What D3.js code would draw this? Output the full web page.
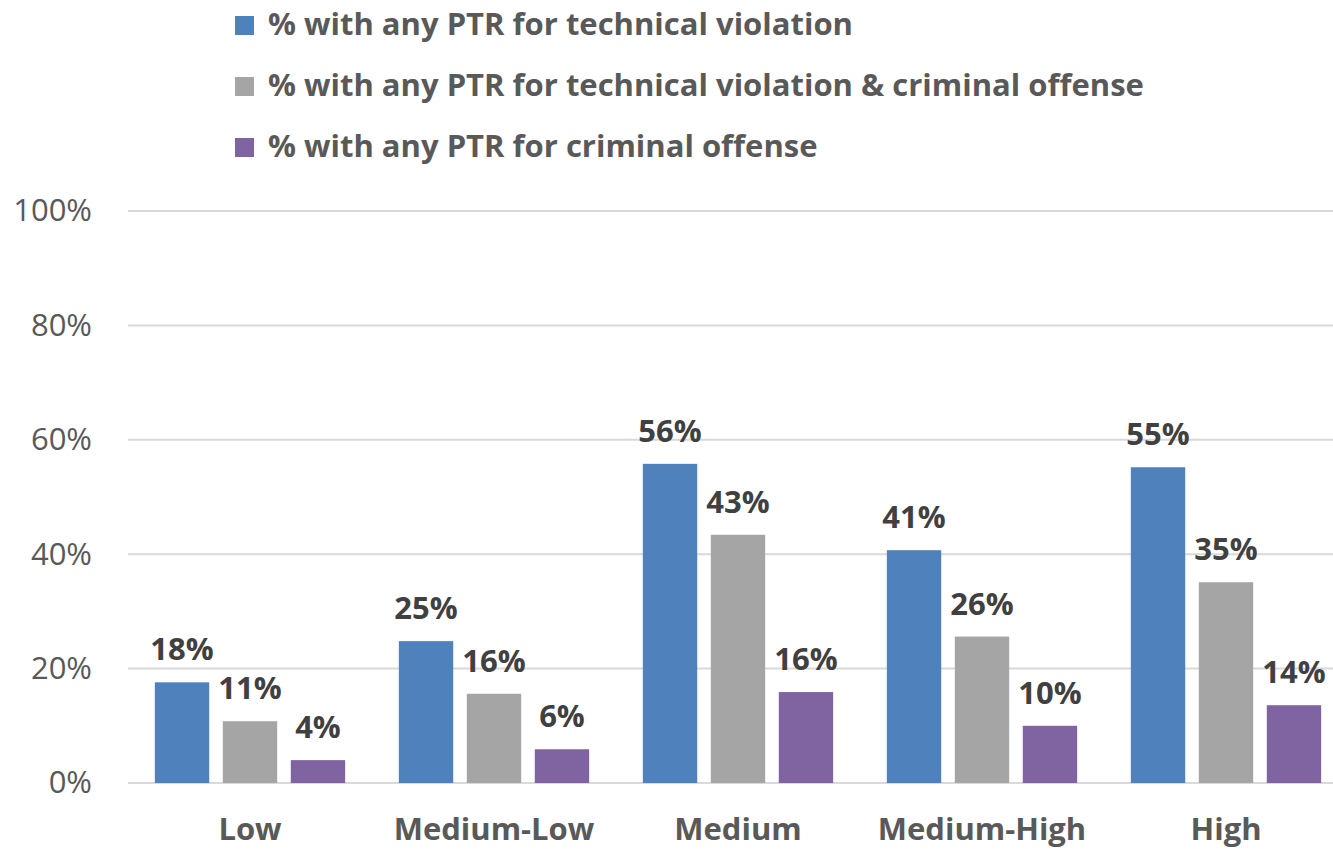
<!DOCTYPE html>
<html>
<head>
<meta charset="utf-8">
<script src="https://cdn.jsdelivr.net/npm/d3@7"></script>
<style>
    body { margin: 0; background: #fff; }
    svg text { font-family: "Open Sans", "Liberation Sans", sans-serif; }
</style>
</head>
<body>
<div id="chart"></div>
<script>
var categories = ['Low', 'Medium-Low', 'Medium', 'Medium-High', 'High'];
var seriesNames = [
    '% with any PTR for technical violation',
    '% with any PTR for technical violation & criminal offense',
    '% with any PTR for criminal offense'
];
var technical = [17.6, 24.8, 55.8, 40.7, 55.2];
var techAndCriminal = [10.8, 15.6, 43.4, 25.6, 35.1];
var criminal = [4.0, 5.9, 15.9, 10.0, 13.6];
var yTicks = [0, 20, 40, 60, 80, 100];
var colors = ['#4F81BD', '#A5A5A5', '#8064A2'];

var width = 1333, height = 850;
var allSeries = [technical, techAndCriminal, criminal];

var svg = d3.select('#chart').append('svg')
    .attr('width', width).attr('height', height);

// scales
var x0 = d3.scaleBand().domain(categories).range([128, 1348])
    .paddingInner(0.22).paddingOuter(0.11);
var x1 = d3.scaleBand().domain(d3.range(3)).range([0, x0.bandwidth()]).padding(0.2).paddingOuter(0);
var y = d3.scaleLinear().domain([0, 100]).range([783, 211]);
var fmt = function(v) { return Math.round(v) + '%'; };

// gridlines
svg.append('g').selectAll('line').data(yTicks).enter().append('line')
    .attr('x1', 128).attr('x2', 1348)
    .attr('y1', function(d) { return y(d); })
    .attr('y2', function(d) { return y(d); })
    .attr('stroke', '#D9D9D9').attr('stroke-width', 2);

// y axis labels
var yAxis = d3.axisLeft(y).tickValues(yTicks).tickSize(0).tickPadding(0)
    .tickFormat(function(d) { return d + '%'; });
var gy = svg.append('g').attr('transform', 'translate(92,0)').call(yAxis);
gy.select('.domain').remove();
gy.selectAll('text')
    .attr('fill', '#595959')
    .style('font-size', '31px')
    .style('font-family', '"Open Sans", sans-serif');

// x axis labels
var xAxis = d3.axisBottom(x0).tickSize(0).tickPadding(0);
var gx = svg.append('g').attr('transform', 'translate(0,818)').call(xAxis);
gx.select('.domain').remove();
gx.selectAll('text')
    .attr('fill', '#595959')
    .attr('dy', '0.71em')
    .style('font-size', '31px')
    .style('font-weight', 'bold')
    .style('font-family', '"Open Sans", sans-serif');

// bars
var groups = svg.append('g').selectAll('g').data(categories).enter().append('g')
    .attr('transform', function(d) { return 'translate(' + x0(d) + ',0)'; });

groups.each(function(cat, ci) {
    var g = d3.select(this);
    var rows = allSeries.map(function(s, si) { return { si: si, v: s[ci] }; });
    g.selectAll('rect').data(rows).enter().append('rect')
        .attr('x', function(d) { return x1(d.si); })
        .attr('width', x1.bandwidth())
        .attr('y', function(d) { return y(d.v); })
        .attr('height', function(d) { return y(0) - y(d.v); })
        .attr('fill', function(d) { return colors[d.si]; });
    g.selectAll('text.lbl').data(rows).enter().append('text')
        .attr('class', 'lbl')
        .attr('x', function(d) { return x1(d.si) + x1.bandwidth() / 2; })
        .attr('y', function(d) { return y(d.v) - 22; })
        .attr('text-anchor', 'middle')
        .attr('fill', '#404040')
        .style('font-size', '31px')
        .style('font-weight', 'bold')
        .text(function(d) { return fmt(d.v); });
});

// legend
var legend = svg.append('g').selectAll('g').data(seriesNames).enter().append('g')
    .attr('transform', function(d, i) { return 'translate(235,' + (35 + i * 61) + ')'; });
legend.append('rect')
    .attr('x', 0).attr('y', -19).attr('width', 19).attr('height', 19)
    .attr('fill', function(d, i) { return colors[i]; });
legend.append('text')
    .attr('x', 33).attr('y', 0)
    .attr('fill', '#595959')
    .style('font-size', '31px')
    .style('font-weight', 'bold')
    .text(function(d) { return d; });
</script>
</body>
</html>
